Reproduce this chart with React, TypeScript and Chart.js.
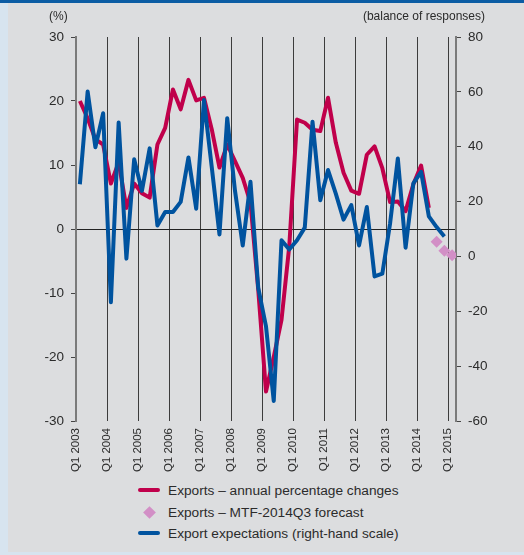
import React, { useEffect, useRef } from "react";
import { Chart, registerables } from "chart.js";

Chart.register(...registerables);

// Quarterly data, first point = Q1 2003
const xTickLabels = [
  "Q1 2003", "Q1 2004", "Q1 2005", "Q1 2006", "Q1 2007", "Q1 2008", "Q1 2009",
  "Q1 2010", "Q1 2011", "Q1 2012", "Q1 2013", "Q1 2014", "Q1 2015",
];

// Exports – annual percentage changes (left scale), 2003Q1 .. 2014Q2
const exportsGrowth = [
  20.0, 17.3, 14.0, 13.2, 7.1, 10.4, 3.3, 7.1, 5.6, 4.9, 13.2, 15.8,
  21.8, 18.7, 23.3, 20.1, 20.5, 15.6, 9.6, 13.2, 10.6, 8.0, 4.1, -9.5,
  -25.4, -20.0, -14.2, -2.7, 17.1, 16.6, 15.5, 15.3, 20.5, 13.5, 8.8, 6.0,
  5.5, 11.6, 12.9, 9.5, 4.2, 4.3, 2.8, 7.0, 9.9, 3.3,
];

// Exports – MTF-2014Q3 forecast (left scale), 2014Q3 .. 2015Q1
const forecastStartIndex = 46;
const exportsForecast = [-2.0, -3.4, -4.1];

// Export expectations, balance of responses (right scale), 2003Q1 .. 2014Q4
const exportExpectations = [
  26.3, 60.1, 39.8, 52.2, -16.7, 48.8, -0.8, 35.4, 23.9, 39.4, 11.3, 16.2,
  16.2, 19.9, 36.1, 17.4, 57.0, 32.7, 8.0, 50.4, 24.0, 4.0, 27.2, -11.5,
  -25.5, -52.7, 5.9, 2.5, 5.9, 10.5, 49.1, 20.5, 31.5, 22.9, 13.4, 18.7,
  4.0, 18.0, -7.3, -6.3, 12.0, 35.7, 3.2, 26.6, 30.8, 14.6, 10.7, 7.3,
];

const RED = "#c0004b";
const PINK = "#d28fc6";
const BLUE = "#00539f";
const TEXT = "#2b2b2b";
const FONT = "'Liberation Sans', Arial, sans-serif";

const toPoints = (arr: number[], start = 0) =>
  arr.map((v, i) => ({ x: start + i + 0.5, y: v }));

export default function App() {
  const canvasRef = useRef<HTMLCanvasElement | null>(null);

  useEffect(() => {
    if (!canvasRef.current) return;
    Chart.defaults.font.family = FONT;
    const chart = new Chart(canvasRef.current, {
      type: "line",
      data: {
        datasets: [
          {
            label: "Exports – annual percentage changes",
            data: toPoints(exportsGrowth),
            borderColor: RED,
            backgroundColor: RED,
            borderWidth: 4,
            borderJoinStyle: "round",
            pointRadius: 0,
            tension: 0,
            yAxisID: "y",
            order: 2,
          },
          {
            label: "Exports – MTF-2014Q3 forecast",
            data: toPoints(exportsForecast, forecastStartIndex),
            showLine: false,
            pointStyle: "rectRot",
            pointRadius: 6,
            pointBackgroundColor: PINK,
            pointBorderWidth: 0,
            borderColor: PINK,
            backgroundColor: PINK,
            yAxisID: "y",
            order: 1,
          },
          {
            label: "Export expectations (right-hand scale)",
            data: toPoints(exportExpectations),
            borderColor: BLUE,
            backgroundColor: BLUE,
            borderWidth: 4,
            borderJoinStyle: "round",
            pointRadius: 0,
            tension: 0,
            yAxisID: "y2",
            order: 0,
          },
        ],
      } as any,
      options: {
        animation: false,
        responsive: true,
        maintainAspectRatio: false,
        layout: { padding: { top: 37, left: 0, right: 0, bottom: 0 } },
        plugins: {
          legend: { display: false },
          tooltip: { enabled: false },
        },
        scales: {
          x: {
            type: "linear",
            min: 0,
            max: 49,
            afterBuildTicks: (s: any) => {
              s.ticks = xTickLabels.map((_, i) => ({ value: i * 4 }));
            },
            afterFit: (s: any) => {
              s.height = 59;
            },
            ticks: {
              autoSkip: false,
              maxRotation: 90,
              minRotation: 90,
              padding: 7,
              color: TEXT,
              font: { size: 11.5, family: FONT },
              callback: (v: any) => xTickLabels[Math.round(Number(v) / 4)] ?? "",
            },
            grid: { color: "#3c3c3c", lineWidth: 1, drawTicks: false },
            border: { display: false },
          },
          y: {
            position: "left",
            min: -30,
            max: 30,
            afterFit: (s: any) => {
              s.width = 76;
            },
            ticks: {
              stepSize: 10,
              padding: 7,
              color: TEXT,
              font: { size: 13.5, family: FONT },
            },
            grid: {
              color: (ctx: any) =>
                ctx.tick && ctx.tick.value === 0 ? "#222222" : "rgba(0,0,0,0)",
              tickColor: "#444444",
              tickLength: 5,
              lineWidth: 1,
            },
            border: { display: true, color: "#7a7a7a", width: 2 },
          },
          y2: {
            position: "right",
            min: -60,
            max: 80,
            afterFit: (s: any) => {
              s.width = 68;
            },
            ticks: {
              stepSize: 20,
              padding: 7,
              color: TEXT,
              font: { size: 13.5, family: FONT },
            },
            grid: {
              drawOnChartArea: false,
              tickColor: "#444444",
              tickLength: 5,
            },
            border: { display: true, color: "#7a7a7a", width: 2 },
          },
        },
      } as any,
    });
    return () => chart.destroy();
  }, []);

  const legendRow = (top: number): React.CSSProperties => ({
    position: "absolute",
    left: 138,
    top,
    height: 20,
    display: "flex",
    alignItems: "center",
    whiteSpace: "nowrap",
  });
  const lineSwatch = (color: string): React.CSSProperties => ({
    width: 22,
    height: 4,
    borderRadius: 2,
    background: color,
    marginRight: 8,
  });
  const textStyle: React.CSSProperties = {
    fontFamily: FONT,
    fontSize: 13.7,
    color: TEXT,
  };

  return (
    <div
      style={{
        position: "fixed",
        left: 0,
        top: 0,
        width: 524,
        height: 555,
        background: "#d7e4ef",
        overflow: "hidden",
      }}
    >
      <div style={{ position: "absolute", left: 0, top: 0, width: 524, height: 3, background: "#0b5ca4" }} />
      <div style={{ position: "absolute", left: 8, top: 3, width: 516, height: 549, background: "#dcdddf" }} />
      <div style={{ position: "absolute", left: 0, top: 0, width: 524, height: 480 }}>
        <canvas ref={canvasRef} />
      </div>
      <div style={{ position: "absolute", left: 49, top: 9, fontFamily: FONT, fontSize: 12, color: TEXT }}>(%)</div>
      <div style={{ position: "absolute", right: 39, top: 9, fontFamily: FONT, fontSize: 12, color: TEXT }}>
        (balance of responses)
      </div>
      <div style={legendRow(480)}>
        <div style={lineSwatch(RED)} />
        <span style={textStyle}>Exports – annual percentage changes</span>
      </div>
      <div style={legendRow(502)}>
        <div style={{ width: 22, height: 20, marginRight: 8, display: "flex", alignItems: "center", justifyContent: "center" }}>
          <div style={{ width: 9, height: 9, background: PINK, transform: "rotate(45deg)" }} />
        </div>
        <span style={textStyle}>Exports – MTF-2014Q3 forecast</span>
      </div>
      <div style={legendRow(523)}>
        <div style={lineSwatch(BLUE)} />
        <span style={textStyle}>Export expectations (right-hand scale)</span>
      </div>
    </div>
  );
}
